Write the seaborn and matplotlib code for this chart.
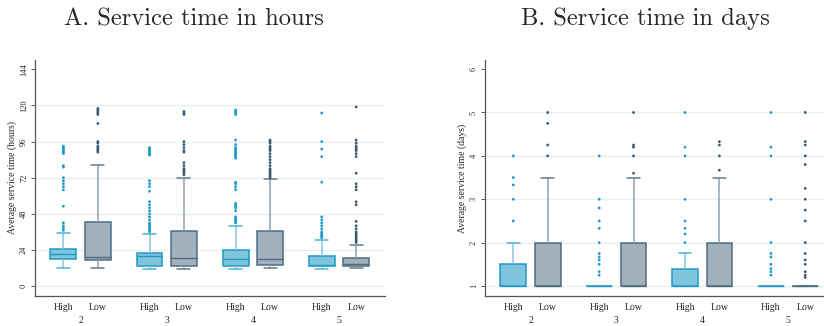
import numpy as np
import pandas as pd
import seaborn as sns
import matplotlib
matplotlib.use("Agg")
import matplotlib.pyplot as plt

# ---------------- data ----------------
groups = ["2", "3", "4", "5"]
levels = ["High", "Low"]

# box summaries: [lower whisker, Q1, median, Q3, upper whisker]
hours_high_box = [[12.0, 18.2, 21.3, 24.8, 35.2],
                  [11.1, 13.3, 20.0, 21.7, 34.3],
                  [11.1, 13.3, 17.9, 24.1, 40.0],
                  [11.1, 13.3, 14.0, 19.9, 30.4]]
hours_low_box = [[11.8, 17.3, 19.5, 42.5, 80.2],
                 [11.1, 13.3, 18.4, 36.8, 72.0],
                 [12.2, 14.2, 17.9, 36.8, 70.9],
                 [12.0, 13.3, 14.5, 18.8, 27.2]]
hours_high_out = [
    [37, 38.5, 40, 42, 53, 64, 66, 68, 70, 72, 79, 80, 88, 89, 90, 91, 92, 93],
    [36, 37, 38, 39, 40, 41, 42, 44, 46, 48, 50, 52, 54, 56, 63, 66, 68, 70,
     87, 88, 89, 90, 91, 92],
    [42, 43, 44, 45, 46, 50, 52, 53, 54, 55, 64, 66, 68, 69, 85, 86, 87, 88,
     89, 90, 91, 92, 94, 97, 114, 115, 116, 117],
    [32, 33, 34, 35, 36, 38, 40, 42, 44, 46, 69, 86, 91, 96, 115]]
hours_low_out = [
    [89, 90, 91, 92, 93, 95, 96, 108, 114, 115, 116, 117, 118],
    [74, 75, 76, 77, 78, 80, 82, 89, 90, 92, 94, 96, 114, 115, 116],
    [72, 73, 74, 75, 76, 77, 78, 80, 82, 84, 86, 88, 90, 91, 92, 93, 95, 96, 97],
    [29, 30, 31, 32, 33, 34, 35, 36, 38, 40, 43, 54, 56, 64, 66, 68, 75, 86,
     88, 90, 91, 92, 93, 95, 97, 119]]

days_high_box = [[1, 1, 1, 1.5, 2.0],
                 [1, 1, 1, 1, 1],
                 [1, 1, 1, 1.4, 1.75],
                 [1, 1, 1, 1, 1]]
days_low_box = [[1, 1, 1, 2, 3.5],
                [1, 1, 1, 2, 3.5],
                [1, 1, 1, 2, 3.5],
                [1, 1, 1, 1, 1]]
days_high_out = [
    [2.5, 3.0, 3.33, 3.5, 4.0],
    [1.25, 1.33, 1.5, 1.6, 1.67, 1.75, 2.0, 2.33, 2.5, 2.8, 3.0, 4.0],
    [2.0, 2.2, 2.33, 2.5, 3.0, 4.0, 4.2, 5.0],
    [1.25, 1.33, 1.4, 1.5, 1.67, 1.75, 2.0, 3.0, 4.0, 4.2, 5.0]]
days_low_out = [
    [4.0, 4.25, 4.75, 5.0],
    [3.6, 4.0, 4.2, 4.25, 5.0],
    [3.67, 4.0, 4.25, 4.33],
    [1.2, 1.25, 1.33, 1.5, 1.6, 1.75, 2.0, 2.5, 2.75, 3.0, 3.25, 3.8, 4.0,
     4.25, 4.33, 5.0]]

hours_ticks = [0, 24, 48, 72, 96, 120, 144]
days_ticks = [1, 2, 3, 4, 5, 6]

# ---------------- style ----------------
sns.set_style("white")
plt.rcParams["font.family"] = ["Liberation Serif", "DejaVu Serif"]

fill = {"High": "#80c4de", "Low": "#a2b1bc"}
edge = {"High": "#1f9ac6", "Low": "#4f6b80"}
whisk = {"High": "#86c7df", "Low": "#8fa2b0"}
capc = {"High": "#4fb3d6", "Low": "#5f7b8f"}
dotc = {"High": "#1a9bc9", "Low": "#3b5a72"}
spine_c = "#555555"
grid_c = "#e8f0f1"


def table(high_box, low_box):
    rows = []
    for g, hb, lb in zip(groups, high_box, low_box):
        for v in hb:
            rows.append((g, "High", v))
        for v in lb:
            rows.append((g, "Low", v))
    return pd.DataFrame(rows, columns=["group", "level", "value"])


def out_table(high_out, low_out):
    rows = []
    for g, ho, lo in zip(groups, high_out, low_out):
        for v in ho:
            rows.append((g, "High", v))
        for v in lo:
            rows.append((g, "Low", v))
    return pd.DataFrame(rows, columns=["group", "level", "value"])


def panel(ax, box_df, out_df, ticks, ylim, ylabel):
    sns.boxplot(data=box_df, x="group", y="value", hue="level",
                order=groups, hue_order=levels, palette=fill,
                whis=(0, 100), showfliers=False, width=0.8, gap=0.25,
                linewidth=1.1, legend=False, ax=ax)
    for cont, lev in zip(ax.containers, levels):
        for b in cont.boxes:
            b.set_facecolor(fill[lev])
            b.set_edgecolor(edge[lev])
            b.set_linewidth(1.1)
        for m in cont.medians:
            m.set_color(edge[lev])
            m.set_linewidth(1.0)
        for w in cont.whiskers:
            w.set_color(whisk[lev])
            w.set_linewidth(1.1)
        for c in cont.caps:
            c.set_color(capc[lev])
            c.set_linewidth(1.1)
    sns.stripplot(data=out_df, x="group", y="value", hue="level",
                  order=groups, hue_order=levels, palette=dotc,
                  dodge=True, jitter=False, size=2.0, linewidth=0,
                  legend=False, ax=ax)
    ax.set_xlim(-0.53, 3.535)
    ax.set_ylim(*ylim)
    ax.set_yticks(ticks)
    ax.set_yticklabels([str(t) for t in ticks], rotation=90, va="center",
                       fontsize=6)
    ax.tick_params(axis="y", direction="out", length=3, width=0.7,
                   color=spine_c, pad=2, left=True)
    ax.yaxis.grid(True, color=grid_c, linewidth=1.0)
    ax.get_ygridlines()[-1].set_visible(False)
    ax.set_axisbelow(True)
    pos = []
    labs = []
    for i in range(len(groups)):
        pos += [i - 0.2, i + 0.2]
        labs += levels
    ax.set_xticks(pos)
    ax.set_xticklabels(labs, fontsize=7)
    ax.tick_params(axis="x", length=0, pad=5)
    for i, g in enumerate(groups):
        ax.text(i, -0.122, g, transform=ax.get_xaxis_transform(),
                ha="center", va="bottom", fontsize=7)
    ax.set_xlabel("")
    ax.set_ylabel(ylabel, fontsize=7, labelpad=2)
    for s in ["top", "right"]:
        ax.spines[s].set_visible(False)
    for s in ["left", "bottom"]:
        ax.spines[s].set_color(spine_c)
        ax.spines[s].set_linewidth(0.9)


fig = plt.figure(figsize=(8.24, 3.26), dpi=100)
ax1 = fig.add_axes([35 / 824, 30 / 326, 350 / 824, 236 / 326])
ax2 = fig.add_axes([485 / 824, 30 / 326, 349 / 824, 236 / 326])

panel(ax1, table(hours_high_box, hours_low_box),
      out_table(hours_high_out, hours_low_out),
      hours_ticks, (-6.6, 150.2), "Average service time (hours)")
panel(ax2, table(days_high_box, days_low_box),
      out_table(days_high_out, days_low_out),
      days_ticks, (0.77, 6.21), "Average service time (days)")

fig.text(194 / 824, 1 - 19 / 326, "A. Service time in hours",
         ha="center", va="center", fontsize=17.7, family=["cmr10", "DejaVu Serif"])
fig.text(645 / 824, 1 - 19 / 326, "B. Service time in days",
         ha="center", va="center", fontsize=17.7, family=["cmr10", "DejaVu Serif"])

fig.savefig("out.png", dpi=100, facecolor="white")
